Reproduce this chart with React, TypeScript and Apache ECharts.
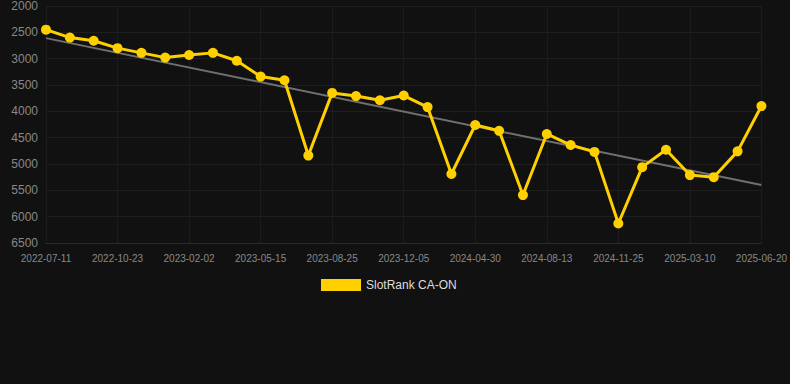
import React, { useEffect, useRef } from "react";
import * as echarts from "echarts";

const categories = [
  "2022-07-11", "2022-08-15", "2022-09-19", "2022-10-23", "2022-11-27", "2022-12-30",
  "2023-02-02", "2023-03-08", "2023-04-11", "2023-05-15", "2023-06-19", "2023-07-22",
  "2023-08-25", "2023-09-29", "2023-11-01", "2023-12-05", "2024-01-22", "2024-03-11",
  "2024-04-30", "2024-06-03", "2024-07-09", "2024-08-13", "2024-09-16", "2024-10-21",
  "2024-11-25", "2024-12-29", "2025-02-03", "2025-03-10", "2025-04-13", "2025-05-17",
  "2025-06-20",
];

const rankValues = [
  2450, 2600, 2660, 2800, 2890, 2980, 2930, 2890, 3040, 3340, 3410, 4840,
  3650, 3710, 3790, 3700, 3920, 5190, 4260, 4370, 5590, 4430, 4640, 4770,
  6130, 5060, 4730, 5210, 5250, 4760, 3900,
];

const trendStart = 2610;
const trendEnd = 5400;

const yTicks = { min: 2000, max: 6500, interval: 500 };

export default function App() {
  const ref = useRef<HTMLDivElement>(null);
  useEffect(() => {
    if (!ref.current) return;
    const chart = echarts.init(ref.current, undefined, { renderer: "svg" });
    const trendData = categories.map((_, i) =>
      i === 0 ? trendStart : i === categories.length - 1 ? trendEnd : null
    );
    chart.setOption({
      animation: false,
      backgroundColor: "#111111",
      grid: { left: 46, right: 28, top: 6, bottom: 141, containLabel: false },
      legend: {
        top: 279,
        left: 321,
        data: ["SlotRank CA-ON"],
        itemWidth: 40,
        itemHeight: 12,
        itemGap: 8,
        icon: "rect",
        padding: 0,
        textStyle: { color: "#dddddd", fontSize: 12, fontFamily: "Arial, Liberation Sans, sans-serif" },
      },
      xAxis: {
        type: "category",
        data: categories,
        boundaryGap: false,
        axisLine: { show: true, lineStyle: { color: "#2a2a2a" } },
        axisTick: { show: false },
        axisLabel: {
          interval: 2,
          color: "#888888",
          fontSize: 10,
          margin: 10,
          fontFamily: "Arial, Liberation Sans, sans-serif",
        },
        splitLine: { show: true, interval: 2, lineStyle: { color: "#1c1c1c" } },
      },
      yAxis: {
        type: "value",
        inverse: true,
        min: yTicks.min,
        max: yTicks.max,
        interval: yTicks.interval,
        axisLine: { show: false },
        axisTick: { show: false },
        axisLabel: {
          color: "#888888",
          fontSize: 12,
          margin: 8,
          formatter: (v: number) => String(v),
          fontFamily: "Arial, Liberation Sans, sans-serif",
        },
        splitLine: { show: true, lineStyle: { color: "#1e1e1e" } },
      },
      series: [
        {
          name: "Trend",
          type: "line",
          data: trendData,
          connectNulls: true,
          showSymbol: false,
          symbol: "none",
          lineStyle: { color: "#707070", width: 2 },
          silent: true,
          z: 1,
        },
        {
          name: "SlotRank CA-ON",
          type: "line",
          data: rankValues,
          symbol: "circle",
          symbolSize: 10,
          itemStyle: { color: "#FFD000" },
          lineStyle: { color: "#FFD000", width: 3 },
          z: 2,
        },
      ],
    });
    return () => chart.dispose();
  }, []);
  return <div ref={ref} style={{ width: 790, height: 384, position: "absolute", left: 0, top: 0 }} />;
}
